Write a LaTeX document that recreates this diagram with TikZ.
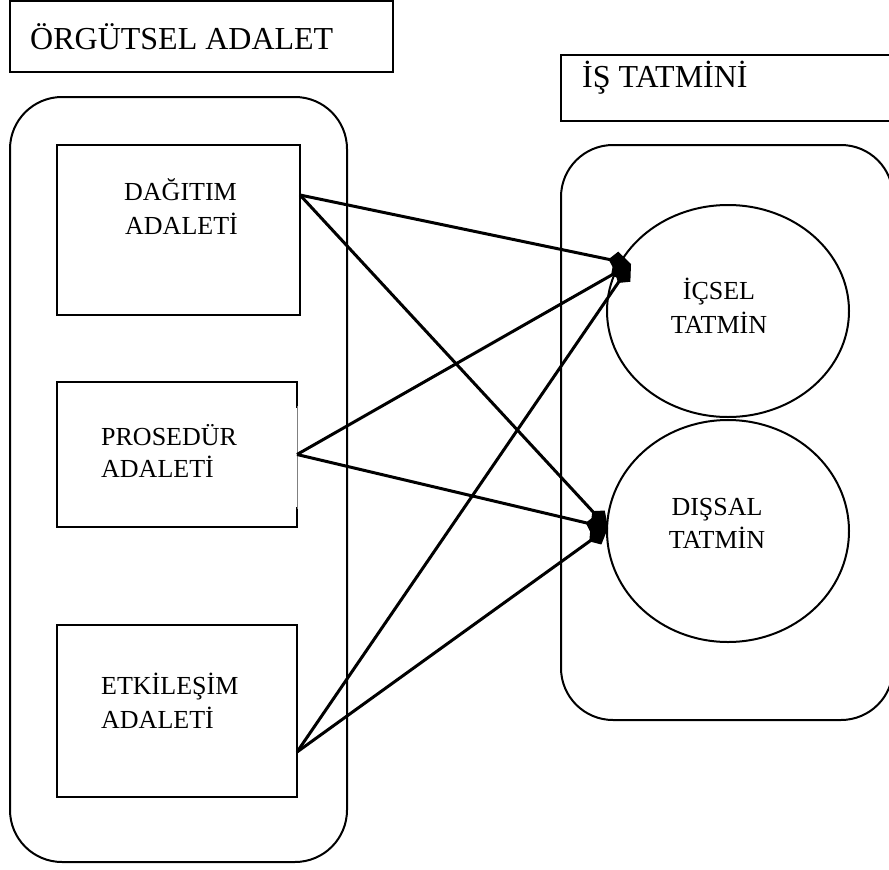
\documentclass[tikz,border=0pt]{standalone}
\usepackage{fontspec}
\setmainfont{Liberation Serif}
\usetikzlibrary{arrows.meta,shapes.geometric}
\begin{document}
\begin{tikzpicture}[x=1pt,y=-1pt,
  box/.style={draw, line width=2pt, rectangle, inner sep=0pt, outer sep=0pt},
  cont/.style={draw, line width=2pt, rectangle, rounded corners=52pt, inner sep=0pt, outer sep=0pt},
  oval/.style={draw, line width=2pt, ellipse, inner sep=0pt, outer sep=0pt},
  big/.style={font=\fontsize{32}{38}\selectfont, inner sep=0pt, anchor=base west},
  small/.style={font=\fontsize{26}{30}\selectfont, inner sep=0pt},
  arr/.style={line width=3pt, -{Kite[length=23pt,width=19pt,inset=8pt]}}]
\useasboundingbox (0,0) rectangle (889,870);
% header boxes
\node[box, minimum width=383pt, minimum height=71pt, anchor=north west] (orgbox) at (10,1) {};
\node[big] (orgtxt) at (30,49) {ÖRGÜTSEL ADALET};
\node[box, minimum width=340pt, minimum height=66pt, anchor=north west] (isbox) at (561,55) {};
\node[big] (istxt) at (582,87) {İŞ TATMİNİ};
% containers
\node[cont, minimum width=337pt, minimum height=765pt, anchor=north west] (left) at (10,97) {};
\node[cont, minimum width=332pt, minimum height=575pt, anchor=north west] (right) at (561,145) {};
% left boxes
\node[box, minimum width=243pt, minimum height=170pt, anchor=north west] (dag) at (57,145) {};
\node[small, anchor=base west] (dag1) at (124,200) {DAĞITIM};
\node[small, anchor=base west] (dag2) at (125,234) {ADALETİ};
\node[box, minimum width=240pt, minimum height=145pt, anchor=north west] (pros) at (57,382) {};
\draw[white, line width=3.5pt] ([yshift=-26pt]pros.north east) -- ([yshift=20pt]pros.south east);
\draw[gray, line width=0.7pt] ([yshift=-24pt]pros.north east) -- ([yshift=18pt]pros.south east);
\node[small, anchor=base west] (pros1) at (101,445) {PROSEDÜR};
\node[small, anchor=base west] (pros2) at (101,477) {ADALETİ};
\node[box, minimum width=240pt, minimum height=172pt, anchor=north west] (etk) at (57,625) {};
\node[small, anchor=base west] (etk1) at (101,694) {ETKİLEŞİM};
\node[small, anchor=base west] (etk2) at (101,728) {ADALETİ};
% ellipses
\node[oval, minimum width=242pt, minimum height=212pt] (ic) at (728,311) {};
\node[small, anchor=base] (ic1) at (719,299) {İÇSEL};
\node[small, anchor=base] (ic2) at (719,333) {TATMİN};
\node[oval, minimum width=242pt, minimum height=222pt] (dis) at (728,531) {};
\node[small, anchor=base] (dis1) at (717,515) {DIŞSAL};
\node[small, anchor=base] (dis2) at (717,548) {TATMİN};
\coordinate (icin) at ([xshift=-97pt,yshift=47pt]ic.center);
\coordinate (disin) at ([xshift=-120pt,yshift=3pt]dis.center);
% arrows
\draw[arr] ([yshift=35pt]dag.east) -- (icin);
\draw[arr] ([yshift=35pt]dag.east) -- (disin);
\draw[arr] (pros.east) -- (icin);
\draw[arr] (pros.east) -- (disin);
\draw[arr] ([yshift=-41pt]etk.east) -- (icin);
\draw[arr] ([yshift=-41pt]etk.east) -- (disin);
\end{tikzpicture}
\end{document}
